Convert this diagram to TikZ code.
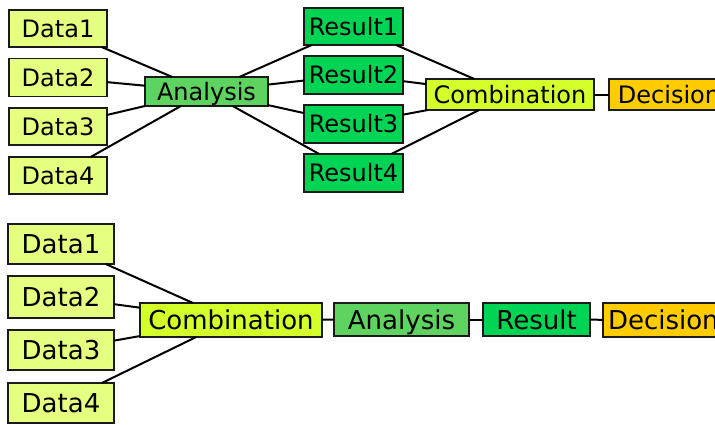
\documentclass[tikz,border=0pt]{standalone}
\usepackage{fontspec}
\setmainfont{DejaVu Sans}
\begin{document}
\definecolor{datafill}{HTML}{E5FF80}
\definecolor{anafill}{HTML}{5FD35F}
\definecolor{resfill}{HTML}{00D455}
\definecolor{combfill}{HTML}{D4FF2A}
\definecolor{decfill}{HTML}{FFCC00}
\definecolor{boxline}{HTML}{1A1A1A}
\begin{tikzpicture}[x=1pt,y=-1pt,
  box/.style={draw=boxline,line width=1.4pt,inner sep=0pt,outer sep=0pt,
    text depth=0pt,align=center},
  small/.style={font=\fontsize{24}{26}\selectfont,text height=17.5pt},
  big/.style={font=\fontsize{26}{28}\selectfont,text height=19pt},
  data/.style={box,fill=datafill},
  ana/.style={box,fill=anafill},
  res/.style={box,fill=resfill},
  comb/.style={box,fill=combfill},
  dec/.style={box,fill=decfill,line width=2.4pt,anchor=west,inner xsep=5pt,
    minimum width=120pt},
  link/.style={line width=2pt,black}]
\useasboundingbox (0,0) rectangle (715,424);

% upper chain: each data set analysed, results combined
\begin{scope}[small]
\node[data,minimum width=98pt,minimum height=37pt] (td1) at (58,28.5) {Data1};
\node[data,minimum width=98pt,minimum height=38pt] (td2) at (58,77.5) {Data2};
\node[data,minimum width=98pt,minimum height=37pt] (td3) at (58,126.5) {Data3};
\node[data,minimum width=98pt,minimum height=37pt] (td4) at (58,175.5) {Data4};
\node[ana,minimum width=123pt,minimum height=29pt] (tan) at (206.5,91.5) {Analysis};
\node[res,minimum width=99pt,minimum height=37pt] (tr1) at (353.5,26.5) {Result1};
\node[res,minimum width=99pt,minimum height=38pt] (tr2) at (353.5,75) {Result2};
\node[res,minimum width=99pt,minimum height=38pt] (tr3) at (353.5,124) {Result3};
\node[res,minimum width=99pt,minimum height=38pt] (tr4) at (353.5,173) {Result4};
\node[comb,minimum width=168pt,minimum height=31pt] (tco) at (510,94.5) {Combination};
\node[dec,minimum height=31pt] (tde) at (609,94.5) {Decision};
\end{scope}

% lower chain: data combined first, then one analysis
\begin{scope}[big]
\node[data,minimum width=106pt,minimum height=40pt] (bd1) at (61,244) {Data1};
\node[data,minimum width=106pt,minimum height=42pt] (bd2) at (61,297) {Data2};
\node[data,minimum width=106pt,minimum height=40pt] (bd3) at (61,350) {Data3};
\node[data,minimum width=106pt,minimum height=40pt] (bd4) at (61,403) {Data4};
\node[comb,minimum width=182pt,minimum height=34pt] (bco) at (231,320) {Combination};
\node[ana,minimum width=135pt,minimum height=33pt] (ban) at (401.5,319.5) {Analysis};
\node[res,minimum width=107pt,minimum height=33pt] (bre) at (536.5,319.5) {Result};
\node[dec,minimum height=34pt] (bde) at (603,320) {Decision};
\end{scope}

% connectors
\foreach \d in {td1,td2,td3,td4} \draw[link] (\d) -- (tan);
\foreach \r in {tr1,tr2,tr3,tr4} {
  \draw[link] (tan) -- (\r);
  \draw[link] (\r) -- (tco);
}
\draw[link] (tco) -- (tde);
\foreach \d in {bd1,bd2,bd3,bd4} \draw[link] (\d) -- (bco);
\draw[link] (bco) -- (ban);
\draw[link] (ban) -- (bre);
\draw[link] (bre) -- (bde);
\end{tikzpicture}
\end{document}
